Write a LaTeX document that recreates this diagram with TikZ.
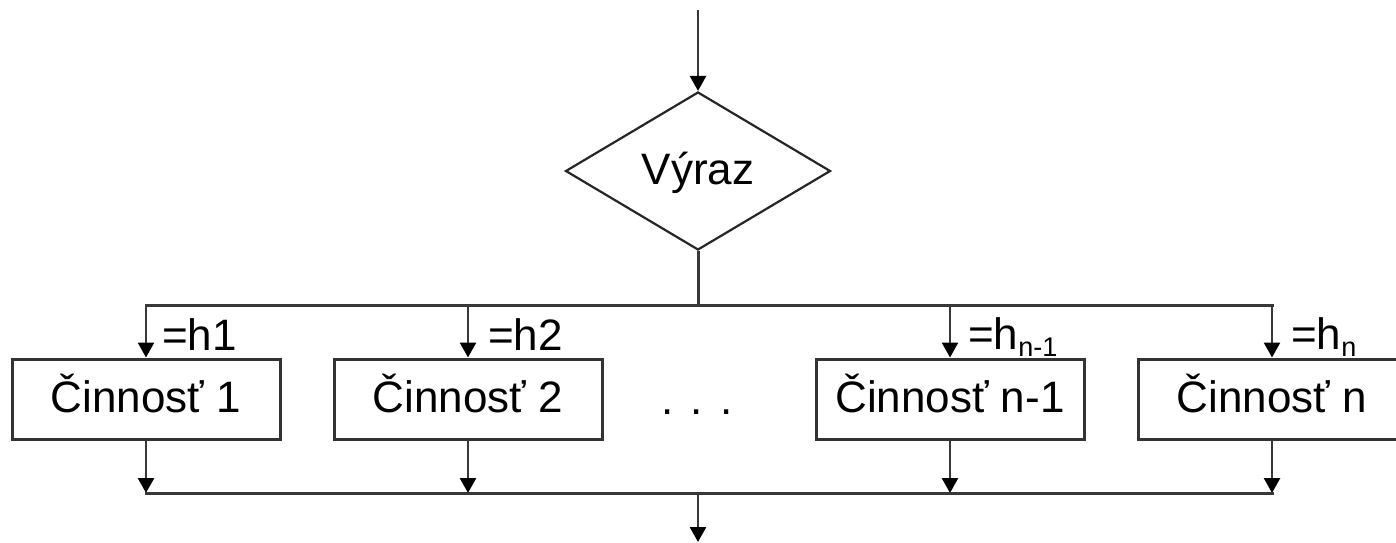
\documentclass[tikz,border=0pt]{standalone}
\usepackage{fontspec}
\setmainfont{Liberation Sans}
\usetikzlibrary{shapes.geometric,arrows.meta}
% lowered, smaller index after a case value
\newcommand\lowidx[1]{\raisebox{-7pt}{\fontsize{27}{30}\selectfont #1}}
\begin{document}
\begin{tikzpicture}[x=1pt,y=-1pt,
  line/.style={draw=black!78, line width=3pt},
  flow/.style={draw=black!78, line width=2.6pt,
    -{Triangle[width=16pt,length=15pt,color=black]}},
  bigtext/.style={font=\fontsize{44}{52}\selectfont, text height=31pt, text depth=5pt},
  actbox/.style={draw=black!80, line width=3pt, minimum width=268pt, minimum height=80pt,
    inner sep=0pt, bigtext},
  cond/.style={diamond, draw=black!85, line width=2.2pt, minimum width=265pt,
    minimum height=158pt, inner sep=0pt, bigtext},
  caselabel/.style={anchor=base west, inner sep=0pt, font=\fontsize{44}{52}\selectfont},
]
\useasboundingbox (0,0) rectangle (1396,542);
\clip (0,0) rectangle (1396,542);

% selector
\coordinate (in) at (698,10);
\node[cond] (sel) at (698,171) {Výraz};

% branch bus and case activities
\coordinate (jc) at (698,305);
\coordinate (j1) at (146,305);
\coordinate (j2) at (468,305);
\coordinate (j3) at (950,305);
\coordinate (j4) at (1272,305);

\node[actbox] (a1) at (146,399) {Činnosť 1};
\node[actbox] (a2) at (468,399) {Činnosť 2};
\node[actbox] (a3) at (950,399) {Činnosť n-1};
\node[actbox] (a4) at (1272,399) {Činnosť n};

\node[caselabel] (h1) at (162,350) {=h1};
\node[caselabel] (h2) at (488,350) {=h2};
\node[caselabel] (h3) at (968,349) {=h\lowidx{n-1}};
\node[caselabel] (h4) at (1291,349) {=h\lowidx{n}};

\node[anchor=base, inner sep=0pt, font=\fontsize{44}{52}\selectfont] (dots) at (697,414)
  {.\hspace{17pt}.\hspace{17pt}.};

% merge bus
\coordinate (kc) at (698,493);
\coordinate (k1) at (146,493);
\coordinate (k2) at (468,493);
\coordinate (k3) at (950,493);
\coordinate (k4) at (1272,493);
\coordinate (out) at (698,542);

% connectors
\draw[flow] (in) -- (sel.north);
\draw[line] (sel.south) -- (jc);
\draw[line, line cap=rect] (j1) -- (j4);
\draw[flow] (j1) -- (a1.north);
\draw[flow] (j2) -- (a2.north);
\draw[flow] (j3) -- (a3.north);
\draw[flow] (j4) -- (a4.north);

\draw[flow] (a1.south) -- (k1);
\draw[flow] (a2.south) -- (k2);
\draw[flow] (a3.south) -- (k3);
\draw[flow] (a4.south) -- (k4);
\draw[line, line cap=rect] (k1) -- (k4);
\draw[flow] (kc) -- (out);
\end{tikzpicture}
\end{document}
